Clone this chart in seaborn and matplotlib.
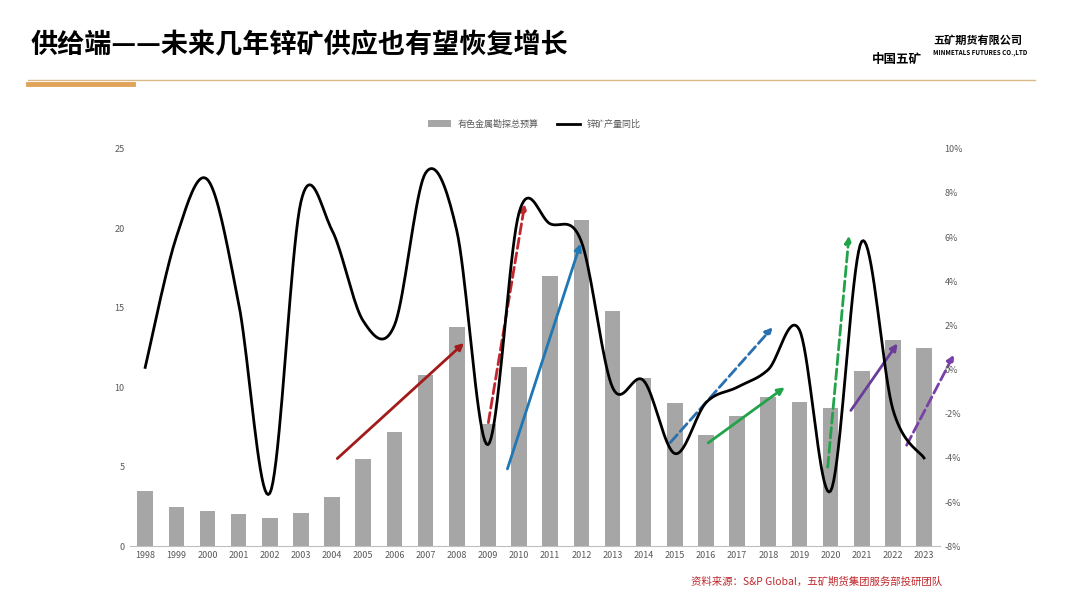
import numpy as np
import pandas as pd
import seaborn as sns
from matplotlib import pyplot as plt

plt.rcParams['font.family'] = ['Noto Sans CJK SC', 'DejaVu Sans']

years = [str(y) for y in range(1998, 2024)]
budget = [3.5, 2.5, 2.2, 2.0, 1.8, 2.1, 3.1, 5.5, 7.2, 10.8, 13.8, 7.7, 11.3, 17.0,
          20.5, 14.8, 10.6, 9.0, 7.0, 8.2, 9.4, 9.1, 8.7, 11.0, 13.0, 12.5]
zinc_yoy = [0.1, 6.0, 8.6, 3.0, -5.6, 7.6, 6.3, 2.2, 2.0, 8.9, 6.3, -3.4, 7.1, 6.6,
            5.8, -0.8, -0.5, -3.8, -1.5, -0.8, 0.0, 1.8, -5.5, 5.8, -1.8, -4.0]

# trend arrows: (x0, y0, x1, y1, colour, dashed) in category index / left axis units
arrows = [
    (6.1, 5.4, 10.3, 12.9, '#a31a1a', False),
    (11.0, 7.6, 12.2, 21.7, '#c0282d', True),
    (11.6, 4.7, 14.0, 19.2, '#1f77b4', False),
    (16.8, 6.4, 20.2, 13.9, '#2a6fb0', True),
    (18.0, 6.4, 20.6, 10.1, '#21a34a', False),
    (21.9, 4.8, 22.6, 19.7, '#21a34a', True),
    (22.6, 8.4, 24.2, 12.9, '#6a3d9a', False),
    (24.4, 6.2, 26.0, 12.2, '#7b3fa8', True),
]


def catmull(x, y, n=20):
    # smooth line like excel's smoothed series
    x = np.asarray(x, float); y = np.asarray(y, float)
    px = np.r_[x[0], x, x[-1]]; py = np.r_[y[0], y, y[-1]]
    xs, ys = [], []
    t = np.linspace(0, 1, n, endpoint=False)
    for i in range(1, len(px) - 2):
        for p, out in ((px, xs), (py, ys)):
            p0, p1, p2, p3 = p[i - 1], p[i], p[i + 1], p[i + 2]
            out.extend(0.5 * ((2 * p1) + (-p0 + p2) * t + (2 * p0 - 5 * p1 + 4 * p2 - p3) * t ** 2
                              + (-p0 + 3 * p1 - 3 * p2 + p3) * t ** 3))
    xs.append(x[-1]); ys.append(y[-1])
    return np.array(xs), np.array(ys)


df = pd.DataFrame({'year': years, 'budget': budget, 'yoy': zinc_yoy})

fig = plt.figure(figsize=(10.8, 6.07), dpi=100)
fig.text(0.028, 0.925, '供给端——未来几年锌矿供应也有望恢复增长', fontsize=19.5, fontweight='bold', va='center')
fig.text(0.83, 0.897, '中国五矿', fontsize=9, fontweight='bold', ha='center')
fig.text(0.864, 0.928, '五矿期货有限公司', fontsize=8, fontweight='bold')
fig.text(0.864, 0.910, 'MINMETALS FUTURES CO.,LTD', fontsize=4.5, fontweight='bold')
fig.add_artist(plt.Line2D([0.026, 0.958], [0.868, 0.868], color='#d9b98a', lw=1))
fig.add_artist(plt.Line2D([0.026, 0.123], [0.862, 0.862], color='#e0a35a', lw=3.5))
fig.text(0.872, 0.036, '资料来源：S&P Global，五矿期货集团服务部投研团队', fontsize=7.5, color='#c0282d', ha='right')

ax = fig.add_axes([0.12, 0.1, 0.75, 0.655])
sns.barplot(data=df, x='year', y='budget', color='#a6a6a6', width=0.5, ax=ax,
            saturation=1, label='有色金属勘探总预算')
ax.set_ylim(0, 25)
ax.set_yticks(range(0, 26, 5))
ax.set_xlim(-0.5, len(years) - 0.5)
ax.set_xlabel(''); ax.set_ylabel('')

ax2 = ax.twinx()
sx, sy = catmull(range(len(years)), zinc_yoy)
ax2.plot(sx, sy, color='black', lw=2, label='锌矿产量同比')
ax2.set_ylim(-8, 10)
ax2.set_yticks(range(-8, 11, 2))
ax2.set_yticklabels([f'{v}%' for v in range(-8, 11, 2)])

for a in (ax, ax2):
    a.tick_params(labelsize=6.5, colors='#595959', length=0)
    for s in a.spines.values():
        s.set_visible(False)
ax.spines['bottom'].set_visible(True)
ax.spines['bottom'].set_color('#bfbfbf')

for x0, y0, x1, y1, c, dashed in arrows:
    ax.annotate('', xy=(x1, y1), xytext=(x0, y0), annotation_clip=False,
                arrowprops=dict(arrowstyle='-|>', color=c, lw=2,
                                linestyle='--' if dashed else '-', mutation_scale=10), zorder=5)

h1, l1 = ax.get_legend_handles_labels()
h2, l2 = ax2.get_legend_handles_labels()
ax.legend(h1 + h2, l1 + l2, loc='lower center', bbox_to_anchor=(0.5, 1.03), ncol=2,
          frameon=False, fontsize=6.5, labelcolor='#595959', handlelength=2.5)

fig.savefig('out.png', dpi=100)
